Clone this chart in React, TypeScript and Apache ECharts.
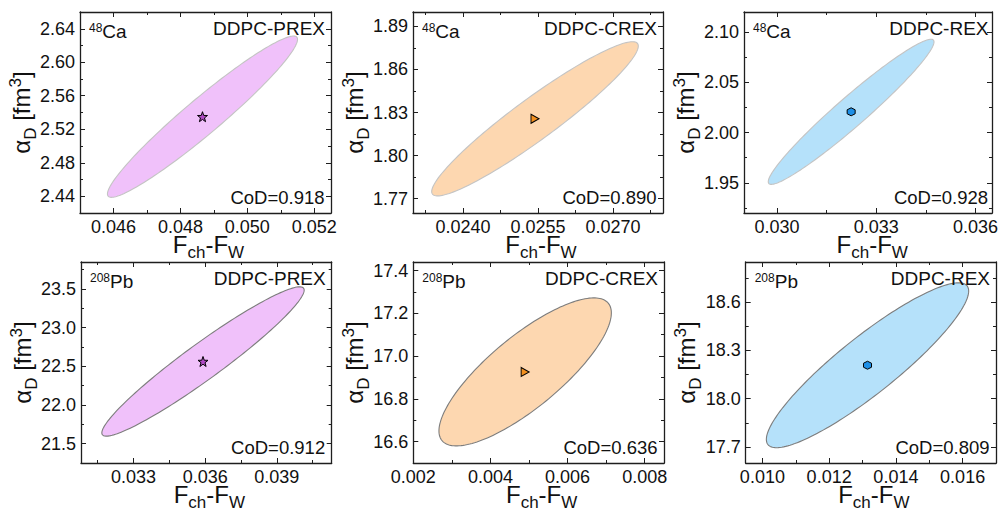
import React, { useEffect, useRef } from "react";
import * as echarts from "echarts";

// ---------------- data ----------------
const panelNames = ["DDPC-PREX", "DDPC-CREX", "DDPC-REX", "DDPC-PREX", "DDPC-CREX", "DDPC-REX"];
const nucleusMass = ["48", "48", "48", "208", "208", "208"];
const nucleusSymbol = ["Ca", "Ca", "Ca", "Pb", "Pb", "Pb"];
const codValues = [0.918, 0.89, 0.928, 0.912, 0.636, 0.809];

// central value (marker) of F_ch - F_W and alpha_D
const centerX = [0.04866, 0.02544, 0.03224, 0.03591, 0.0049, 0.01315];
const centerY = [2.535, 1.8256, 2.0207, 22.563, 16.926, 18.208];
// half extents of the 1-sigma ellipse along each axis
const halfX = [0.00284, 0.002066, 0.002506, 0.004237, 0.002235, 0.003031];
const halfY = [0.0963, 0.0537, 0.0722, 0.966, 0.3461, 0.5127];

// axis ranges
const xMin = [0.045, 0.023, 0.029, 0.0308, 0.002, 0.0095];
const xMax = [0.0525, 0.028, 0.0365, 0.0413, 0.0085, 0.017];
const yMin = [2.42, 1.76, 1.92, 21.25, 16.5, 17.6];
const yMax = [2.66, 1.9, 2.12, 23.85, 17.44, 18.85];

// tick values
const xMajorTicks = [
  [0.046, 0.048, 0.05, 0.052],
  [0.024, 0.0255, 0.027],
  [0.03, 0.033, 0.036],
  [0.033, 0.036, 0.039],
  [0.002, 0.004, 0.006, 0.008],
  [0.01, 0.012, 0.014, 0.016],
];
const xMinorTicks = [
  [0.047, 0.049, 0.051],
  [0.02325, 0.02475, 0.02625, 0.02775],
  [0.0315, 0.0345],
  [0.0315, 0.0345, 0.0375, 0.0405],
  [0.003, 0.005, 0.007],
  [0.011, 0.013, 0.015],
];
const yMajorTicks = [
  [2.44, 2.48, 2.52, 2.56, 2.6, 2.64],
  [1.77, 1.8, 1.83, 1.86, 1.89],
  [1.95, 2.0, 2.05, 2.1],
  [21.5, 22.0, 22.5, 23.0, 23.5],
  [16.6, 16.8, 17.0, 17.2, 17.4],
  [17.7, 18.0, 18.3, 18.6],
];
const yMinorTicks = [
  [2.46, 2.5, 2.54, 2.58, 2.62],
  [1.785, 1.815, 1.845, 1.875],
  [1.925, 1.975, 2.025, 2.075],
  [21.75, 22.25, 22.75, 23.25, 23.75],
  [16.7, 16.9, 17.1, 17.3],
  [17.85, 18.15, 18.45, 18.75],
];
const xDecimals = [3, 4, 3, 3, 3, 3];
const yDecimals = [2, 2, 2, 1, 1, 1];

// ---------------- styles / layout ----------------
const FONT = "'Liberation Sans', Arial, Helvetica, sans-serif";
const TEXT = "#111111";
const AXIS = "#1e1e1e";

const gridBoxes = [
  { left: 80, top: 12, width: 251, height: 201 },
  { left: 413, top: 12, width: 250, height: 201 },
  { left: 744, top: 12, width: 250.5, height: 201 },
  { left: 81, top: 262, width: 250.7, height: 201 },
  { left: 413.3, top: 262, width: 250.7, height: 201 },
  { left: 745.7, top: 262, width: 250.3, height: 201 },
];

const ellipseFill = ["#f0c1fa", "#fdd7b0", "#b5e1fa", "#f0c1fa", "#fdd7b0", "#b5e1fa"];
const ellipseEdge = ["#c4c4c4", "#c4c4c4", "#c4c4c4", "#7d7d7d", "#7d7d7d", "#7d7d7d"];
const markerColor = ["#b24ac6", "#f3901f", "#1d8fe6", "#b24ac6", "#f3901f", "#1d8fe6"];

const STAR =
  "path://M0,-10 L2.35,-3.24 L9.51,-3.09 L3.8,1.24 L5.88,8.09 L0,4 L-5.88,8.09 L-3.8,1.24 L-9.51,-3.09 L-2.35,-3.24 Z";
const TRI = "path://M0,0 L10,5 L0,10 Z";
const HEX = "path://M5,0 L9.33,2.5 L9.33,7.5 L5,10 L0.67,7.5 L0.67,2.5 Z";
const markerSymbol = [STAR, TRI, HEX, STAR, TRI, HEX];
const markerSize = [[10, 10], [8, 9], [8, 8], [10, 10], [8, 9], [8, 8]];

function buildOption() {
  const grid: any[] = [];
  const xAxis: any[] = [];
  const yAxis: any[] = [];
  const series: any[] = [];
  const graphic: any[] = [];

  gridBoxes.forEach((g, i) => {
    grid.push({ left: g.left, top: g.top, width: g.width, height: g.height, containLabel: false });

    const lineOn = { show: true, onZero: false, lineStyle: { color: AXIS, width: 1.3 } };
    const lineOff = { show: false, onZero: false };
    const tick = (vals: number[], len: number) => ({
      show: true,
      inside: true,
      length: len,
      customValues: vals,
      lineStyle: { color: AXIS, width: 1 },
    });
    const base = (min: number, max: number) => ({
      gridIndex: i,
      type: "value",
      min,
      max,
      splitLine: { show: false },
      minorTick: { show: false },
      axisPointer: { show: false },
    });

    // x axes
    xAxis.push({
      ...base(xMin[i], xMax[i]),
      position: "bottom",
      axisLine: lineOn,
      axisTick: tick(xMajorTicks[i], 5),
      axisLabel: {
        show: true,
        customValues: xMajorTicks[i],
        formatter: (v: number) => v.toFixed(xDecimals[i]),
        margin: 5,
        fontSize: 18,
        fontFamily: FONT,
        color: TEXT,
      },
    });
    xAxis.push({ ...base(xMin[i], xMax[i]), position: "top", axisLine: lineOn, axisTick: tick(xMajorTicks[i], 5), axisLabel: { show: false } });
    xAxis.push({ ...base(xMin[i], xMax[i]), position: "bottom", axisLine: lineOff, axisTick: tick(xMinorTicks[i], 3), axisLabel: { show: false } });
    xAxis.push({ ...base(xMin[i], xMax[i]), position: "top", axisLine: lineOff, axisTick: tick(xMinorTicks[i], 3), axisLabel: { show: false } });

    // y axes
    yAxis.push({
      ...base(yMin[i], yMax[i]),
      position: "left",
      axisLine: lineOn,
      axisTick: tick(yMajorTicks[i], 5),
      axisLabel: {
        show: true,
        customValues: yMajorTicks[i],
        formatter: (v: number) => v.toFixed(yDecimals[i]),
        margin: 5,
        fontSize: 18,
        fontFamily: FONT,
        color: TEXT,
      },
    });
    yAxis.push({ ...base(yMin[i], yMax[i]), position: "right", axisLine: lineOn, axisTick: tick(yMajorTicks[i], 5), axisLabel: { show: false } });
    yAxis.push({ ...base(yMin[i], yMax[i]), position: "left", axisLine: lineOff, axisTick: tick(yMinorTicks[i], 3), axisLabel: { show: false } });
    yAxis.push({ ...base(yMin[i], yMax[i]), position: "right", axisLine: lineOff, axisTick: tick(yMinorTicks[i], 3), axisLabel: { show: false } });

    const cx = centerX[i];
    const cy = centerY[i];
    const a = halfX[i];
    const b = halfY[i];
    const r = Math.sqrt(codValues[i]);
    const s = Math.sqrt(1 - codValues[i]);

    series.push({
      type: "custom",
      xAxisIndex: 4 * i,
      yAxisIndex: 4 * i,
      silent: true,
      z: 2,
      data: [[cx, cy]],
      renderItem: (_params: any, api: any) => {
        const pts: number[][] = [];
        const N = 180;
        for (let k = 0; k < N; k++) {
          const t = (2 * Math.PI * k) / N;
          pts.push(api.coord([cx + a * Math.cos(t), cy + b * (r * Math.cos(t) + s * Math.sin(t))]));
        }
        return {
          type: "polygon",
          shape: { points: pts },
          style: { fill: ellipseFill[i], stroke: ellipseEdge[i], lineWidth: 1.1 },
        };
      },
    });

    series.push({
      type: "scatter",
      xAxisIndex: 4 * i,
      yAxisIndex: 4 * i,
      silent: true,
      z: 5,
      data: [[cx, cy]],
      symbol: markerSymbol[i],
      symbolSize: markerSize[i],
      itemStyle: { color: markerColor[i], borderColor: "#000", borderWidth: 1, opacity: 1 },
    });

    const right = g.left + g.width;
    const bottom = g.top + g.height;

    graphic.push({
      type: "text",
      x: g.left + 9,
      y: g.top + 19,
      z: 100,
      style: {
        text: `{s|${nucleusMass[i]}}{m|${nucleusSymbol[i]}}`,
        align: "left",
        verticalAlign: "middle",
        fill: TEXT,
        fontFamily: FONT,
        rich: {
          s: { fontSize: 12, fontFamily: FONT, fill: TEXT, padding: [0, 0, 6, 0] },
          m: { fontSize: 19, fontFamily: FONT, fill: TEXT },
        },
      },
    });
    graphic.push({
      type: "text",
      x: right - 6,
      y: g.top + 16,
      z: 100,
      style: { text: panelNames[i], align: "right", verticalAlign: "middle", fontSize: 19, fontFamily: FONT, fill: TEXT },
    });
    graphic.push({
      type: "text",
      x: right - 6.5,
      y: bottom - 15.5,
      z: 100,
      style: {
        text: `CoD=${codValues[i].toFixed(3)}`,
        align: "right",
        verticalAlign: "middle",
        fontSize: 18.5,
        fontFamily: FONT,
        fill: TEXT,
      },
    });
    // x title
    graphic.push({
      type: "text",
      x: g.left + g.width / 2 + 3,
      y: bottom + 31,
      z: 100,
      style: {
        text: "{m|F}{s|ch}{m|-F}{s|W}",
        align: "center",
        verticalAlign: "middle",
        fill: TEXT,
        fontFamily: FONT,
        rich: {
          m: { fontSize: 24, fontFamily: FONT, fill: TEXT },
          s: { fontSize: 17, fontFamily: FONT, fill: TEXT, padding: [16, 0, 0, 0] },
        },
      },
    });
    // y title
    graphic.push({
      type: "text",
      x: g.left - 59,
      y: g.top + g.height / 2,
      rotation: Math.PI / 2,
      z: 100,
      style: {
        text: "{m|α}{s|D}{m| [fm}{p|3}{m|]}",
        align: "center",
        verticalAlign: "middle",
        fill: TEXT,
        fontFamily: FONT,
        rich: {
          m: { fontSize: 24, fontFamily: FONT, fill: TEXT },
          s: { fontSize: 17, fontFamily: FONT, fill: TEXT, padding: [18, 0, 0, 0] },
          p: { fontSize: 17, fontFamily: FONT, fill: TEXT, padding: [0, 0, 12, 0] },
        },
      },
    });
  });

  return {
    animation: false,
    backgroundColor: "#ffffff",
    grid,
    xAxis,
    yAxis,
    series,
    graphic,
  };
}

export default function App() {
  const ref = useRef<HTMLDivElement | null>(null);
  useEffect(() => {
    if (!ref.current) return;
    const chart = echarts.init(ref.current, undefined, { renderer: "svg" });
    chart.setOption(buildOption() as any);
    return () => chart.dispose();
  }, []);
  return (
    <div
      ref={ref}
      style={{ position: "absolute", left: 0, top: 0, width: 1001, height: 511, background: "#fff" }}
    />
  );
}
